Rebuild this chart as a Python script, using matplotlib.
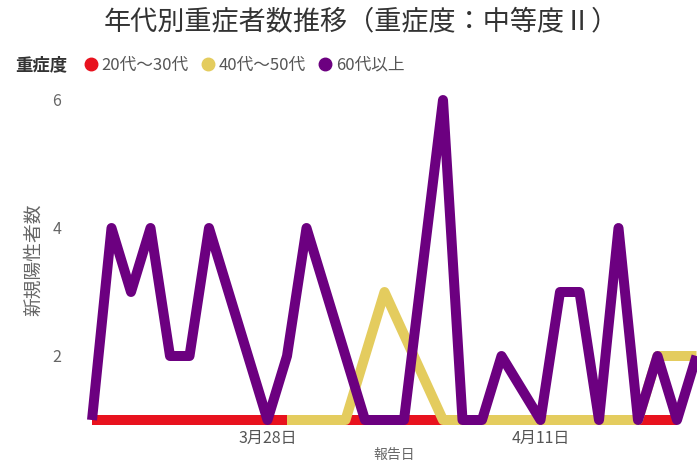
import matplotlib
matplotlib.use("Agg")
import matplotlib.pyplot as plt
from matplotlib.lines import Line2D
import pandas as pd

plt.rcParams['font.family'] = ['Noto Sans CJK JP', 'DejaVu Sans']

# 報告日 (3/19 - 4/19)
dates = pd.date_range('2021-03-19', '2021-04-19', freq='D')

# 年代別の値（欠測日は None）
red_20_30 = [1] * 31 + [None]
yellow_40_50 = [None] * 10 + [1, 1, 1, 1, 2, 3, None, None, 1, 1, 1, 1, 1, 1, 1,
                              1, 1, 1, 1, 2, 2, 2]
purple_60 = [1, 4, 3, 4, 2, 2, 4, 3, 2, 1, 2, 4, 3, 2, 1, 1, 1, None, 6, 1, 1, 2,
             None, 1, 3, 3, 1, 4, 1, 2, 1, 2]

labels = ['20代～30代', '40代～50代', '60代以上']
colors = ['#E8121E', '#E4CC5E', '#6C0080']
tick_dates = ['2021-03-28', '2021-04-11']
tick_labels = ['3月28日', '4月11日']
yticks = [2, 4, 6]

fig = plt.figure(figsize=(6.97, 4.62), dpi=100)
ax = fig.add_axes([92 / 697, 1 - 420 / 462, (696.5 - 92) / 697, 320 / 462])

for vals, c in zip([red_20_30, yellow_40_50, purple_60], colors):
    s = pd.Series(vals, index=dates, dtype=float).dropna()
    ax.plot(s.index, s.values, color=c, lw=7.2, solid_joinstyle='round',
            solid_capstyle='butt', clip_on=False)

ax.set_xlim(dates[0], dates[-1])
ax.set_ylim(1, 6)
ax.set_yticks(yticks)
ax.set_xticks(pd.to_datetime(tick_dates))
ax.set_xticklabels(tick_labels)
ax.tick_params(axis='y', length=0, pad=22, labelsize=11.5, labelcolor='#666666')
ax.tick_params(axis='x', length=0, pad=7, labelsize=11.5, labelcolor='#555555')
for sp in ax.spines.values():
    sp.set_visible(False)

ax.set_ylabel('新規陽性者数', fontsize=13.5, color='#666666', labelpad=6)
ax.set_xlabel('報告日', fontsize=10, color='#666666', labelpad=1)

fig.text(0.519, 1 - 22 / 462, '年代別重症者数推移（重症度：中等度Ⅱ）',
         ha='center', va='center', fontsize=19.5, color='#333333')

fig.text(15 / 697, 1 - 65 / 462, '重症度', ha='left', va='center',
         fontsize=12.5, fontweight='bold', color='#333333')
handles = [Line2D([], [], ls='none', marker='o', markersize=9, color=c)
           for c in colors]
fig.legend(handles, labels, loc='center left',
           bbox_to_anchor=(80 / 697, 1 - 65 / 462), ncol=3, frameon=False,
           handletextpad=0.0, columnspacing=0.5, handlelength=1.3,
           fontsize=12, labelcolor='#555555', borderpad=0, borderaxespad=0)

fig.savefig('out.png', dpi=100)
